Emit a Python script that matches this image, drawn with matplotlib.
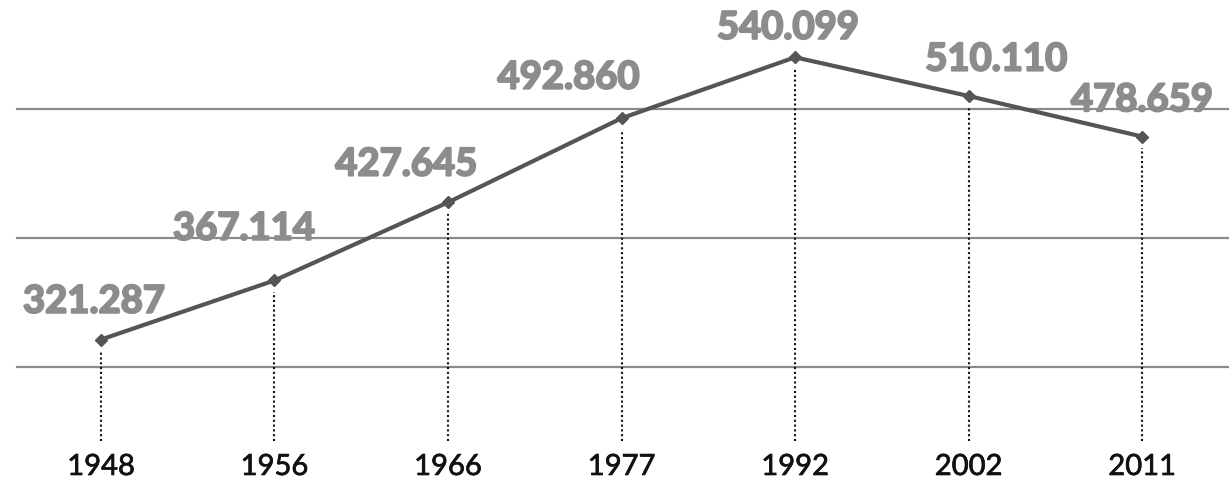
import matplotlib
matplotlib.use('Agg')
import matplotlib.pyplot as plt
import matplotlib.patheffects as path_effects
import numpy as np

# data
years = ['1948', '1956', '1966', '1977', '1992', '2002', '2011']
values = [321.287, 367.114, 427.645, 492.860, 540.099, 510.110, 478.659]
value_labels = ['321.287', '367.114', '427.645', '492.860', '540.099', '510.110', '478.659']
grid_levels = [300, 400, 500]

# label offsets in points (dx, dy) relative to each marker
label_offsets = [(-5, 15), (-22, 25), (-30, 15), (-38, 17), (-5, 9), (20, 14), (0, 14)]

fig = plt.figure(figsize=(12.29, 4.81), dpi=100)
ax = fig.add_axes([0, 0, 1, 1])
ax.set_xlim(-0.582, 6.501)
ax.set_ylim(212.4, 585.3)
ax.axis('off')

x = np.arange(len(years))

for g in grid_levels:
    ax.axhline(g, xmin=17 / 1229, xmax=1, color='#8a8a8a', lw=1.6, zorder=1)

# dotted drop lines
ax.vlines(x, 243, np.array(values) - 9, colors='#111111', lw=1.5,
          linestyles=(0, (1, 1.3)), zorder=2)

ax.plot(x, values, color='#555555', lw=3, marker='D', markersize=6.5,
        markerfacecolor='#555555', markeredgecolor='#555555', zorder=3)

for xi, v, lab, (dx, dy) in zip(x, values, value_labels, label_offsets):
    t = ax.annotate(lab, (xi, v), xytext=(dx, dy), textcoords='offset points',
                    ha='center', va='bottom', fontsize=27.5, fontweight='bold',
                    family='Lato', color='#8c8c8e', zorder=4)
    t.set_path_effects([path_effects.withStroke(linewidth=1.5, foreground='#8c8c8e')])

for xi, yr in zip(x, years):
    t = ax.text(xi, 222.5, yr, ha='center', va='center', fontsize=21,
                family='Lato', color='#111111')
    t.set_path_effects([path_effects.withStroke(linewidth=0.5, foreground='#111111')])

fig.savefig('out.png', dpi=100, facecolor='white')
